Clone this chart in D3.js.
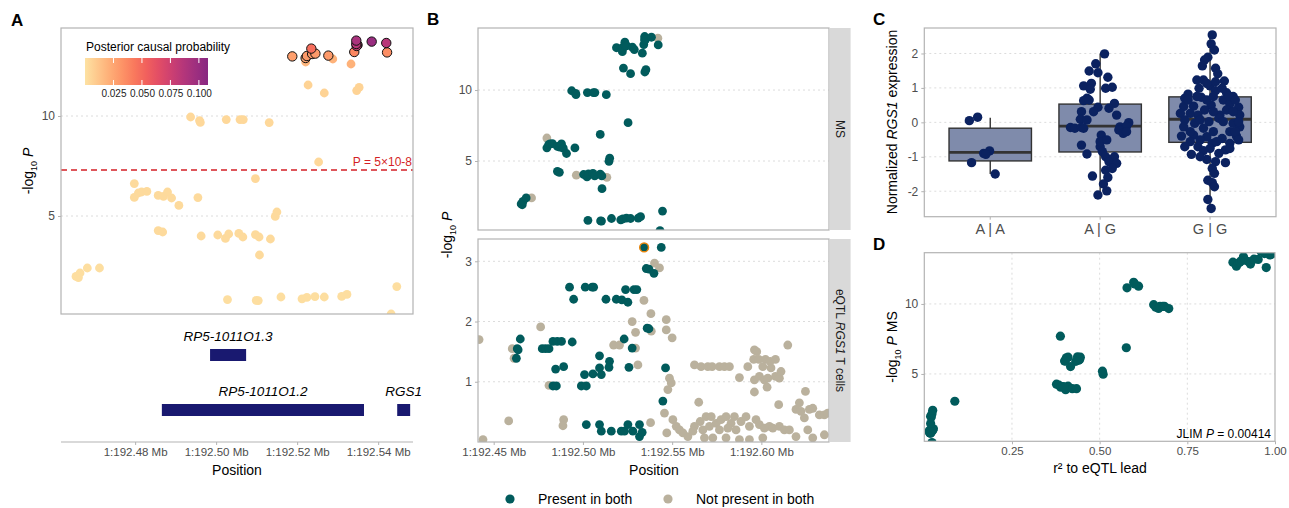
<!DOCTYPE html>
<html>
<head>
<meta charset="utf-8">
<script src="https://cdn.jsdelivr.net/npm/d3@7"></script>
<style>
  body { margin: 0; background: #fff; }
  text { font-family: "Liberation Sans", Arial, sans-serif; }
</style>
</head>
<body>
<svg id="fig" width="1289" height="508"></svg>
<script>
// ---- MS GWAS SNPs (panels A, B top, D) ----
const msPos = [192.4654,192.4660,192.4664,192.4682,192.4712,192.4798,192.4798,192.4808,192.4816,192.4829,
  192.4857,192.4857,192.4868,192.4870,192.4880,192.4890,192.4908,192.4937,192.4955,192.4959,
  192.4961,192.4963,192.5004,192.5023,192.5025,192.5028,192.5031,192.5056,192.5059,192.5066,
  192.5067,192.5097,192.5097,192.5099,192.5104,192.5106,192.5107,192.5131,192.5134,192.5146,
  192.5150,192.5160,192.5188,192.5212,192.5221,192.5221,192.5224,192.5224,192.5227,192.5235,
  192.5237,192.5244,192.5245,192.5253,192.5267,192.5267,192.5277,192.5288,192.5310,192.5323,
  192.5333,192.5341,192.5346,192.5346,192.5347,192.5349,192.5347,192.5353,192.5384,192.5420,
  192.5422,192.5432,192.5446];
const msLogP = [1.98,1.92,2.15,2.40,2.40,6.62,5.93,6.15,6.20,6.23,
  6.03,4.27,4.20,5.98,6.20,5.90,5.53,9.95,5.92,9.77,
  9.68,4.00,4.05,3.88,9.82,0.82,4.10,4.13,9.82,3.95,
  9.82,4.07,6.87,0.78,0.77,3.95,3.05,9.67,3.85,4.98,
  5.20,0.95,12.98,0.86,12.70,12.90,0.93,13.00,11.55,13.37,
  13.10,0.97,13.12,7.70,11.15,0.95,13.02,12.85,0.98,1.08,
  12.60,13.20,13.77,13.60,13.50,13.55,11.27,11.43,13.72,13.65,
  13.18,0.10,1.47];
const msPip = [.002,.002,.002,.002,.002,.003,.003,.003,.003,.003,
  .003,.003,.003,.003,.003,.003,.003,.004,.003,.004,
  .004,.003,.003,.003,.004,.002,.003,.003,.004,.003,
  .004,.003,.004,.002,.002,.003,.003,.004,.003,.003,
  .003,.002,.028,.002,.018,.026,.002,.030,.006,.048,
  .030,.002,.030,.004,.006,.002,.030,.020,.002,.002,
  .020,.038,.092,.085,.080,.075,.006,.006,.100,.085,
  .035,.002,.002];
const msShared = [1,1,1,1,0,0,1,1,1,1, 1,1,1,1,1,1,1,1,1,1, 1,0,1,1,1,1,1,1,1,1,
  1,1,1,1,1,1,1,1,0,1, 1,1,1,1,1,1,1,1,1,1, 1,1,1,1,1,1,1,1,1,1,
  1,1,1,1,1,1,1,1,1,0, 1,1,1];
const msCredible = [0,0,0,0,0,0,0,0,0,0, 0,0,0,0,0,0,0,0,0,0, 0,0,0,0,0,0,0,0,0,0,
  0,0,0,0,0,0,0,0,0,0, 0,0,1,0,0,1,0,1,0,1, 1,0,1,0,0,0,1,0,0,0,
  0,1,1,1,1,1,0,0,1,1, 1,0,0];
const msR2 = [.018,.020,.022,.024,null,null,.400,.405,.410,.437,
  .443,.377,.384,.440,.445,.432,.417,.654,.402,.660,
  .668,null,.389,.403,.672,.015,.395,.410,.680,.422,
  .685,.398,.576,.016,.018,.434,.087,.697,null,.510,
  .508,.014,.880,.020,.890,.895,.022,.900,.597,.910,
  .905,.019,.915,.388,.578,.021,.925,.930,.024,.026,
  .975,.940,.960,.970,.985,.990,.611,.600,1.000,null,
  .952,.022,.018];

// ---- eQTL RGS1 T cells (panel B bottom) ----
const eqtlLead = 192.5343;
const eqtlPos = [192.5343,192.5439,192.5355,192.5370,192.5398,192.4925,192.4948,192.5013,192.5052,192.5060,
  192.5129,192.5187,192.5218,192.5252,192.5239,192.5286,192.5302,192.5360,192.5370,192.4649,
  192.4632,192.4627,192.4772,192.4791,192.4810,192.4832,192.4856,192.4880,192.4940,192.5231,
  192.5276,192.4847,192.4892,192.4832,192.4851,192.5093,192.5149,192.5146,192.5093,192.5009,
  192.5056,192.5103,192.4991,192.5019,192.5258,192.5463,192.5448,192.5019,192.5093,192.5103,
  192.5159,192.5215,192.5233,192.5252,192.5280,192.5317,192.5317,192.5332,192.4637,
  // not present in both
  192.4418,192.4440,192.4584,192.4604,192.4614,192.4763,192.4810,192.4892,192.4888,192.5172,
  192.5205,192.5276,192.5295,192.5295,192.5308,192.5342,192.5381,192.5401,192.5429,192.5383,
  192.5379,192.5467,192.5467,192.5500,192.5485,192.5495,192.5476,192.5457,192.5470,192.5504,
  192.5523,192.5541,192.5560,192.5588,192.5625,192.5662,192.5700,192.5724,192.5765,192.5793,
  192.5821,192.5649,192.5625,192.5672,192.5690,192.5719,192.5747,192.5774,192.5802,192.5830,
  192.5858,192.5886,192.5914,192.5933,192.5709,192.5765,192.5812,192.5849,192.5877,192.5924,
  192.5961,192.5974,192.5957,192.5985,192.6023,192.6049,192.6079,192.6008,192.6054,192.5961,
  192.5989,192.6017,192.6036,192.6079,192.6101,192.6110,192.5961,192.6032,192.6148,192.6097,
  192.6194,192.6213,192.6222,192.6247,192.6241,192.6269,192.6288,192.6325,192.6353,192.6372,
  192.5970,192.5989,192.6017,192.6045,192.6064,192.6101,192.6129,192.6157,192.5728,192.5802,
  192.5877,192.5933,192.6008,192.6194,192.6260,192.6288,192.6353,192.5657,192.5681,192.5616];
const eqtlLogP = [3.23,3.23,2.88,2.87,2.80,2.57,2.37,2.57,2.57,2.57,
  2.37,2.37,2.36,2.32,2.53,2.53,2.53,1.89,1.88,1.71,
  1.55,1.39,1.55,1.55,1.55,1.67,1.67,1.67,1.66,1.71,
  1.56,1.21,1.25,0.93,0.93,1.43,1.34,1.24,1.23,1.12,
  1.13,1.12,0.93,0.93,1.24,1.23,0.68,0.29,0.29,0.18,
  0.18,0.18,0.18,0.29,0.18,0.29,0.09,0.16,1.53,
  1.70,0.04,0.35,1.55,1.39,1.91,0.94,0.37,0.27,1.61,
  1.61,2.00,1.82,1.56,1.28,2.35,2.13,2.97,2.89,1.84,
  0.32,2.03,1.86,1.73,1.06,0.98,0.87,0.48,0.15,0.37,
  0.26,0.20,0.15,0.09,1.28,1.25,1.25,1.25,1.25,1.25,
  1.25,0.66,0.26,0.20,0.42,0.42,0.31,0.37,0.42,0.31,
  0.20,0.34,0.42,0.26,0.26,0.20,0.23,0.42,1.07,1.25,
  1.53,1.50,1.37,1.37,1.37,1.34,1.37,1.25,1.23,1.03,
  1.09,1.03,1.06,1.09,1.06,1.17,0.83,0.91,1.61,0.62,
  0.54,0.65,0.51,0.84,0.40,0.54,0.56,0.45,0.45,0.48,
  0.37,0.29,0.23,0.26,0.23,0.26,0.20,0.20,0.07,0.07,
  0.04,0.04,0.07,0.09,0.20,0.07,0.12,0.34,0.07,0.18];
const eqtlSharedCount = 59; // the first 59 SNPs are present in both

// ---- genes under panel A ----
const geneNames = ["RP5-1011O1.3", "RP5-1011O1.2", "RGS1"];
const geneStart = [192.4985, 192.4866, 192.5447];
const geneEnd = [192.5074, 192.5365, 192.5479];
const geneRow = [0, 1, 1];

// ---- panel C: RGS1 expression by genotype ----
const genotypes = ["A | A", "A | G", "G | G"];
const boxLow = [-1.50, -2.11, -2.50];
const boxQ1 = [-1.12, -0.86, -0.58];
const boxMedian = [-0.87, -0.11, 0.09];
const boxQ3 = [-0.17, 0.53, 0.74];
const boxHigh = [0.13, 1.99, 2.54];
const aaExpr = [0.05, 0.15, -1.17, -0.90, -0.83, -1.50, -0.93];
const aaJitter = [-0.19, -0.115, -0.17, -0.06, -0.006, 0.045, -0.04];
const agExpr = [1.99,1.70,1.49,1.44,1.31,1.06,1.13,0.96,0.99,1.02,
  0.70,0.63,0.65,0.55,0.41,0.44,0.31,0.31,0.21,0.09,
  0.07,-0.01,-0.15,-0.17,-0.15,-0.17,-0.13,-0.11,-0.22,-0.32,
  -0.27,-0.37,-0.66,-0.71,-0.92,-0.85,-1.00,-1.00,-1.14,-1.19,
  -1.39,-1.56,-1.60,-1.79,-1.99,-2.11,-0.56,-0.51,-1.34];
const agJitter = [0.04,-0.04,-0.10,-0.02,0.07,-0.15,-0.08,-0.09,0.05,0.11,
  -0.12,-0.15,-0.10,0.13,0.08,-0.02,-0.06,-0.17,0.15,-0.18,
  -0.12,0.26,-0.27,-0.23,-0.17,-0.15,0.18,0.24,0.17,0.21,
  0.24,0.01,-0.17,0.00,-0.12,0.02,0.05,0.13,0.08,0.15,
  0.05,-0.07,0.07,0.03,0.06,-0.02,0.00,0.06,0.11];
const ggExpr = [2.54,2.28,2.10,1.89,1.81,1.64,1.57,1.41,1.20,1.23,
  1.23,1.06,0.99,0.82,0.92,0.86,0.75,0.70,0.73,0.65,
  0.50,0.53,0.44,0.46,0.47,0.36,0.26,0.21,0.21,0.21,
  0.07,-0.03,0.02,0.12,-0.03,-0.13,-0.13,-0.17,-0.27,-0.40,
  -0.37,-0.42,-0.47,-0.40,-0.56,-0.61,-0.61,-0.71,-0.76,-0.80,
  -0.93,-0.82,-0.90,-1.08,-1.14,-1.17,-1.34,-1.48,-1.68,-1.75,
  -1.87,-2.24,-2.50,0.65,0.75,0.65,0.75,0.77,0.65,0.26,
  0.31,0.36,0.31,0.07,0.02,0.02,-0.27,-0.27,-0.27,-0.51,
  -0.56,-0.51,-0.71,-0.76,-1.00,1.18,1.13,0.99];
const ggJitter = [0.02,0.01,0.04,-0.02,-0.05,-0.07,0.05,0.07,0.13,-0.12,
  -0.06,0.00,-0.10,-0.20,0.05,0.15,0.21,-0.23,-0.08,0.12,
  0.01,0.18,0.26,-0.24,-0.15,-0.05,-0.27,-0.11,0.09,0.27,
  -0.23,-0.14,-0.01,0.08,0.21,0.27,-0.24,-0.06,0.18,-0.26,
  -0.15,-0.03,0.11,0.24,-0.18,0.02,0.18,-0.11,0.00,0.14,
  -0.17,-0.06,0.08,-0.03,0.05,0.14,0.02,0.04,-0.02,0.02,
  0.04,-0.02,0.01,-0.20,-0.12,-0.03,0.03,0.17,0.23,-0.18,
  0.03,0.15,0.21,-0.09,0.12,0.26,-0.18,0.03,0.23,-0.09,
  0.06,0.26,-0.23,0.18,-0.09,0.05,-0.03,0.11];

// ---- styling ----
const FONT = '"Liberation Sans", Arial, sans-serif';
const GREEN = "#015b5c", BEIGE = "#bab19d", NAVY = "#0b2260";
const FRAME = "#b3b3b3", TICKTXT = "#4d4d4d", GRID = "#dcdcdc";
const plainNum = d => String(d);

const svg = d3.select("#fig");

function styleAxis(g, size) {
  g.attr("font-family", FONT).attr("font-size", size || 11.5);
  g.select(".domain").remove();
  g.selectAll(".tick line").attr("stroke", FRAME);
  g.selectAll(".tick text").attr("fill", TICKTXT);
}
function logPLabel(t, extra) {
  t.append("tspan").text("-log");
  t.append("tspan").attr("font-size", 9).attr("dy", 4).text("10");
  t.append("tspan").attr("dy", -4).attr("font-style", "italic").text("\u00A0P");
  if (extra) t.append("tspan").text(extra);
}
function frame(x0, y0, x1, y1) {
  svg.append("rect").attr("x", x0).attr("y", y0).attr("width", x1 - x0).attr("height", y1 - y0)
    .attr("fill", "none").attr("stroke", FRAME).attr("stroke-width", 1.2);
}
function clip(id, x0, y0, x1, y1) {
  svg.append("clipPath").attr("id", id).append("rect")
    .attr("x", x0).attr("y", y0).attr("width", x1 - x0).attr("height", y1 - y0);
}
function panelTag(letter, x, y) {
  svg.append("text").attr("x", x).attr("y", y).attr("font-size", 17).attr("font-weight", "bold").text(letter);
}

const ms = msPos.map((p, i) => ({ pos: p, p: msLogP[i], pip: msPip[i], shared: msShared[i], cs: msCredible[i], r2: msR2[i] }));

// ================= Panel A =================
const xA = d3.scaleLinear().domain([192.4617, 192.5486]).range([61, 413]);
const yA = d3.scaleLinear().domain([0.1, 14.4]).range([314, 28]);
const pipColor = d3.scaleSequential(t => d3.interpolateMagma(0.94 - 0.55 * t)).domain([0, 0.108]);

panelTag("A", 11, 26);
svg.append("g").selectAll("line").data([5, 10]).join("line")
  .attr("x1", 61).attr("x2", 413).attr("y1", d => yA(d)).attr("y2", d => yA(d))
  .attr("stroke", GRID).attr("stroke-dasharray", "2,3");
svg.append("g").attr("transform", "translate(61,0)")
  .call(d3.axisLeft(yA).tickValues([5, 10]).tickFormat(plainNum).tickSize(3).tickPadding(3))
  .call(g => styleAxis(g, 12));
svg.append("text").attr("transform", "translate(33,171) rotate(-90)")
  .attr("text-anchor", "middle").attr("font-size", 14).call(t => logPLabel(t));

clip("clipA", 61, 28, 413, 314);
const gA = svg.append("g").attr("clip-path", "url(#clipA)");
const msSorted = ms.slice().sort((a, b) => (a.cs - b.cs) || (a.pip - b.pip));
gA.selectAll("circle").data(msSorted).join("circle")
  .attr("cx", d => xA(d.pos)).attr("cy", d => yA(d.p))
  .attr("r", d => d.cs ? 4.7 : 4.4)
  .attr("fill", d => pipColor(d.pip))
  .attr("stroke", d => d.cs ? "#111" : "none").attr("stroke-width", 1);

// genome-wide significance line
const gws = -Math.log10(5e-8);
svg.append("line").attr("x1", 61).attr("x2", 413).attr("y1", yA(gws)).attr("y2", yA(gws))
  .attr("stroke", "#d41f26").attr("stroke-width", 1.4).attr("stroke-dasharray", "6,4");
svg.append("text").attr("x", 412).attr("y", yA(gws) - 4).attr("text-anchor", "end")
  .attr("fill", "#d41f26").attr("font-size", 12).text("P = 5\u00D710-8");
frame(61, 28, 413, 314);

// colour legend
svg.append("text").attr("x", 86).attr("y", 51).attr("font-size", 12).text("Posterior causal probability");
const grad = svg.append("defs").append("linearGradient").attr("id", "pipGrad");
d3.range(0, 1.0001, 0.1).forEach(t => {
  grad.append("stop").attr("offset", t).attr("stop-color", pipColor(t * 0.108));
});
const xLeg = d3.scaleLinear().domain([0, 0.108]).range([85, 208]);
svg.append("rect").attr("x", 85).attr("y", 58).attr("width", 123).attr("height", 27).attr("fill", "url(#pipGrad)");
const legTicks = [0.025, 0.05, 0.075, 0.1];
svg.append("g").selectAll("line").data(legTicks.flatMap(v => [[v, 58, 63], [v, 80, 85]])).join("line")
  .attr("x1", d => xLeg(d[0])).attr("x2", d => xLeg(d[0])).attr("y1", d => d[1]).attr("y2", d => d[2])
  .attr("stroke", "#fff").attr("stroke-width", 1);
svg.append("g").attr("transform", "translate(0,85)")
  .call(d3.axisBottom(xLeg).tickValues(legTicks).tickFormat(d3.format(".3f")).tickSize(0).tickPadding(5))
  .call(g => { styleAxis(g, 10); g.selectAll(".tick text").attr("fill", "#222"); });

// gene track
const rowY = [349, 404];
const genes = geneNames.map((n, i) => ({ name: n, s: geneStart[i], e: geneEnd[i], row: geneRow[i] }));
svg.append("g").selectAll("rect").data(genes).join("rect")
  .attr("x", d => xA(d.s)).attr("width", d => xA(d.e) - xA(d.s))
  .attr("y", d => rowY[d.row]).attr("height", 12).attr("fill", "#191970");
svg.append("g").selectAll("text").data(genes).join("text")
  .attr("x", d => xA((d.s + d.e) / 2)).attr("y", d => rowY[d.row] - 8)
  .attr("text-anchor", "middle").attr("font-style", "italic").attr("font-size", 13.5).text(d => d.name);
svg.append("line").attr("x1", 61).attr("x2", 413).attr("y1", 442).attr("y2", 442).attr("stroke", FRAME).attr("stroke-width", 1.2);
svg.append("g").attr("transform", "translate(0,442)")
  .call(d3.axisBottom(xA).tickValues([192.48, 192.50, 192.52, 192.54]).tickSize(3).tickPadding(3)
    .tickFormat(d => "1:" + d3.format(".2f")(d) + " Mb"))
  .call(g => styleAxis(g, 11.5));
svg.append("text").attr("x", 237).attr("y", 475).attr("text-anchor", "middle").attr("font-size", 14).text("Position");

// ================= Panel B =================
const xB = d3.scaleLinear().domain([192.4412, 192.6379]).range([478, 829]);
const yB1 = d3.scaleLinear().domain([0.14, 14.37]).range([230, 28]);
const yB2 = d3.scaleLinear().domain([0, 3.37]).range([442, 239]);
panelTag("B", 427, 25);

function facet(id, yScale, y0, y1, ticks, pts, stripLabel) {
  svg.append("g").selectAll("line").data(ticks).join("line")
    .attr("x1", 478).attr("x2", 829).attr("y1", d => yScale(d)).attr("y2", d => yScale(d))
    .attr("stroke", GRID).attr("stroke-dasharray", "2,3");
  svg.append("g").attr("transform", "translate(478,0)")
    .call(d3.axisLeft(yScale).tickValues(ticks).tickFormat(plainNum).tickSize(3).tickPadding(3))
    .call(g => styleAxis(g, 12));
  clip(id, 478, y0, 829, y1);
  const g = svg.append("g").attr("clip-path", `url(#${id})`);
  g.selectAll("circle").data(pts.slice().sort((a, b) => a.shared - b.shared)).join("circle")
    .attr("cx", d => xB(d.pos)).attr("cy", d => yScale(d.p)).attr("r", 4.4)
    .attr("fill", d => d.shared ? GREEN : BEIGE)
    .attr("stroke", d => d.lead ? "#e8850c" : "none").attr("stroke-width", 1.5);
  frame(478, y0, 829, y1);
  svg.append("rect").attr("x", 829.6).attr("y", y0).attr("width", 21).attr("height", y1 - y0).attr("fill", "#d9d9d9");
  const t = svg.append("text").attr("transform", `translate(836,${(y0 + y1) / 2}) rotate(90)`)
    .attr("text-anchor", "middle").attr("font-size", 12).attr("fill", "#1a1a1a");
  stripLabel(t);
}
facet("clipB1", yB1, 28, 230, [5, 10], ms, t => t.text("MS"));
const eqtl = eqtlPos.map((p, i) => ({ pos: p, p: eqtlLogP[i], shared: i < eqtlSharedCount ? 1 : 0, lead: p === eqtlLead }));
facet("clipB2", yB2, 239, 442, [1, 2, 3], eqtl, t => {
  t.append("tspan").text("eQTL ");
  t.append("tspan").attr("font-style", "italic").text("RGS1");
  t.append("tspan").text(" T cells");
});
svg.append("g").attr("transform", "translate(0,442)")
  .call(d3.axisBottom(xB).tickValues([192.45, 192.50, 192.55, 192.60]).tickSize(3).tickPadding(3)
    .tickFormat(d => "1:" + d3.format(".2f")(d) + " Mb"))
  .call(g => styleAxis(g, 11.5));
svg.append("text").attr("x", 654).attr("y", 475).attr("text-anchor", "middle").attr("font-size", 14).text("Position");
svg.append("text").attr("transform", "translate(452,235) rotate(-90)")
  .attr("text-anchor", "middle").attr("font-size", 14).call(t => logPLabel(t));

// legend
const legItems = [{ label: "Present in both", color: GREEN, x: 510 }, { label: "Not present in both", color: BEIGE, x: 668 }];
const lg = svg.append("g");
lg.selectAll("circle").data(legItems).join("circle")
  .attr("cx", d => d.x).attr("cy", 499).attr("r", 4.6).attr("fill", d => d.color);
lg.selectAll("text").data(legItems).join("text")
  .attr("x", d => d.x + 28).attr("y", 504).attr("font-size", 14).text(d => d.label);

// ================= Panel C =================
const xC = d3.scaleBand().domain(genotypes).range([924.3, 1276]).paddingInner(0).paddingOuter(0.1);
const yC = d3.scaleLinear().domain([-2.74, 2.74]).range([216.7, 28]);
panelTag("C", 873, 25);
svg.append("g").selectAll("line").data([-2, -1, 0, 1, 2]).join("line")
  .attr("x1", 924.3).attr("x2", 1276).attr("y1", d => yC(d)).attr("y2", d => yC(d))
  .attr("stroke", GRID).attr("stroke-dasharray", "2,3");
svg.append("g").attr("transform", "translate(924.3,0)")
  .call(d3.axisLeft(yC).tickValues([-2, -1, 0, 1, 2]).tickFormat(plainNum).tickSize(3).tickPadding(3))
  .call(g => styleAxis(g, 12));
svg.append("g").attr("transform", "translate(0,216.7)")
  .call(d3.axisBottom(xC).tickSize(3).tickPadding(4))
  .call(g => styleAxis(g, 14.5));

const boxes = genotypes.map((g, i) => ({ g, lo: boxLow[i], q1: boxQ1[i], med: boxMedian[i], q3: boxQ3[i], hi: boxHigh[i] }));
const cx = g => xC(g) + xC.bandwidth() / 2;
const bw = xC.step() * 0.75;
const gBox = svg.append("g");
gBox.selectAll("line.wh").data(boxes).join("line").attr("class", "wh")
  .attr("x1", d => cx(d.g)).attr("x2", d => cx(d.g)).attr("y1", d => yC(d.lo)).attr("y2", d => yC(d.hi))
  .attr("stroke", "#333").attr("stroke-width", 1.4);
gBox.selectAll("rect").data(boxes).join("rect")
  .attr("x", d => cx(d.g) - bw / 2).attr("width", bw)
  .attr("y", d => yC(d.q3)).attr("height", d => yC(d.q1) - yC(d.q3))
  .attr("fill", "#7f8bab").attr("stroke", "#333").attr("stroke-width", 1.4);
gBox.selectAll("line.med").data(boxes).join("line").attr("class", "med")
  .attr("x1", d => cx(d.g) - bw / 2).attr("x2", d => cx(d.g) + bw / 2)
  .attr("y1", d => yC(d.med)).attr("y2", d => yC(d.med))
  .attr("stroke", "#333").attr("stroke-width", 2.8);

const exprPts = [[aaExpr, aaJitter], [agExpr, agJitter], [ggExpr, ggJitter]].flatMap(([vals, jit], k) =>
  vals.map((v, i) => ({ g: genotypes[k], v, j: jit[i] || 0 })));
svg.append("g").selectAll("circle").data(exprPts).join("circle")
  .attr("cx", d => cx(d.g) + d.j * xC.step()).attr("cy", d => yC(d.v)).attr("r", 4.7).attr("fill", NAVY);
frame(924.3, 28, 1276, 216.7);
const cl = svg.append("text").attr("transform", "translate(897,122) rotate(-90)")
  .attr("text-anchor", "middle").attr("font-size", 14);
cl.append("tspan").text("Normalized ");
cl.append("tspan").attr("font-style", "italic").text("RGS1");
cl.append("tspan").text(" expression");

// ================= Panel D =================
const xD = d3.scaleLinear().domain([0, 1]).range([924.3, 1275]);
const yD = d3.scaleLinear().domain([0.19, 13.66]).range([441.3, 252.7]);
panelTag("D", 873, 250);
svg.append("g").selectAll("line").data([0.25, 0.5, 0.75]).join("line")
  .attr("x1", d => xD(d)).attr("x2", d => xD(d)).attr("y1", 252.7).attr("y2", 441.3)
  .attr("stroke", GRID).attr("stroke-dasharray", "2,3");
svg.append("g").selectAll("line").data([5, 10]).join("line")
  .attr("x1", 924.3).attr("x2", 1275).attr("y1", d => yD(d)).attr("y2", d => yD(d))
  .attr("stroke", GRID).attr("stroke-dasharray", "2,3");
svg.append("g").attr("transform", "translate(924.3,0)")
  .call(d3.axisLeft(yD).tickValues([5, 10]).tickFormat(plainNum).tickSize(3).tickPadding(3))
  .call(g => styleAxis(g, 12));
svg.append("g").attr("transform", "translate(0,441.3)")
  .call(d3.axisBottom(xD).tickValues([0.25, 0.5, 0.75, 1]).tickFormat(d3.format(".2f")).tickSize(3).tickPadding(3))
  .call(g => styleAxis(g, 11.5));
clip("clipD", 924.3, 252.7, 1275, 441.3);
svg.append("g").attr("clip-path", "url(#clipD)").selectAll("circle")
  .data(ms.filter(d => d.shared && d.r2 != null)).join("circle")
  .attr("cx", d => xD(d.r2)).attr("cy", d => yD(d.p)).attr("r", 4.6).attr("fill", GREEN);
frame(924.3, 252.7, 1275, 441.3);
const jl = svg.append("text").attr("x", 1271).attr("y", 438).attr("text-anchor", "end").attr("font-size", 12);
jl.append("tspan").text("JLIM ");
jl.append("tspan").attr("font-style", "italic").text("P");
jl.append("tspan").text(" = 0.00414");
svg.append("text").attr("x", 1100).attr("y", 473).attr("text-anchor", "middle").attr("font-size", 14)
  .text("r\u00B2 to eQTL lead");
svg.append("text").attr("transform", "translate(897,347) rotate(-90)")
  .attr("text-anchor", "middle").attr("font-size", 14).call(t => logPLabel(t, " MS"));
</script>
</body>
</html>
